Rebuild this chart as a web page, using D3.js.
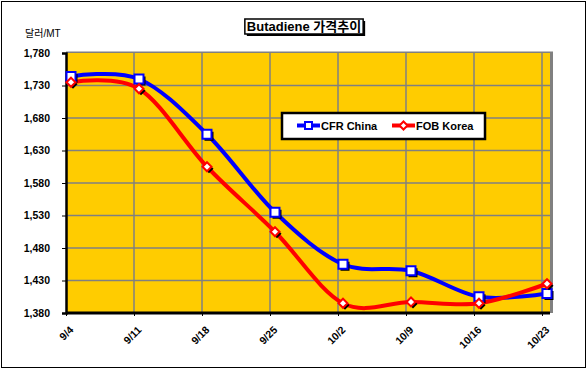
<!DOCTYPE html>
<html lang="ko">
<head>
  <meta charset="UTF-8" />
  <script src="https://d3js.org/d3.v7.min.js"></script>
  <title>Butadiene 가격추이</title>
  <style>
    body { margin: 0; background: #fff; }
    text { font-family: "Liberation Sans", Arial, "Noto Sans CJK KR", sans-serif; }
  </style>
</head>
<body>
  <div id="chart"></div>
  <script>
    // data
    const dates = ["9/4", "9/11", "9/18", "9/25", "10/2", "10/9", "10/16", "10/23"];
    const cfrChina = [1744, 1740, 1655, 1535, 1455, 1445, 1405, 1410];
    const fobKorea = [1735, 1725, 1605, 1505, 1395, 1397, 1395, 1425];
    const yTicks = [1380, 1430, 1480, 1530, 1580, 1630, 1680, 1730, 1780];

    const width = 587, height = 369;
    const plot = { left: 66, right: 542, top: 53, bottom: 313 };

    const svg = d3.select("#chart").append("svg")
      .attr("width", width)
      .attr("height", height);

    // outer frame
    svg.append("rect")
      .attr("x", 1.5).attr("y", 1.5)
      .attr("width", 584).attr("height", 366)
      .attr("fill", "#fff").attr("stroke", "#000").attr("stroke-width", 1);

    const x = d3.scalePoint().domain(dates).range([plot.left, plot.right]);
    const y = d3.scaleLinear().domain([1380, 1780]).range([plot.bottom, plot.top]);
    const px = d => x(d) + 5; // points sit a little right of the category lines

    // plot area (gray border on top/right, yellow fill)
    svg.append("rect")
      .attr("x", plot.left).attr("y", plot.top - 1.5)
      .attr("width", 553 - plot.left).attr("height", plot.bottom - plot.top + 1.5)
      .attr("fill", "#808080");
    svg.append("rect")
      .attr("x", plot.left).attr("y", plot.top)
      .attr("width", 550 - plot.left).attr("height", plot.bottom - plot.top)
      .attr("fill", "#FFCC00");

    // grid
    svg.append("g")
      .selectAll("line.h")
      .data(yTicks.slice(1, -1))
      .join("line")
      .attr("x1", plot.left).attr("x2", 550)
      .attr("y1", d => y(d)).attr("y2", d => y(d))
      .attr("stroke", "#808080").attr("stroke-width", 1.5);
    svg.append("g")
      .selectAll("line.v")
      .data(dates.slice(1))
      .join("line")
      .attr("x1", d => x(d)).attr("x2", d => x(d))
      .attr("y1", plot.top).attr("y2", plot.bottom)
      .attr("stroke", "#808080").attr("stroke-width", 1.5);

    // axes
    const yAxis = svg.append("g")
      .attr("transform", `translate(${plot.left},0)`)
      .call(d3.axisLeft(y).tickValues(yTicks).tickSize(4).tickFormat(d3.format(",")));
    yAxis.select(".domain").attr("stroke", "#000").attr("stroke-width", 2.5);
    yAxis.selectAll("text")
      .attr("x", -16)
      .attr("font-size", "10.5px").attr("font-weight", "bold").attr("fill", "#000")
      .style("font-family", "'Liberation Sans', Arial, sans-serif");

    const xAxis = svg.append("g")
      .attr("transform", `translate(0,${plot.bottom})`)
      .call(d3.axisBottom(x).tickSize(3));
    xAxis.select(".domain").attr("d", `M${plot.left},0H550`).attr("stroke", "#000").attr("stroke-width", 3);
    xAxis.selectAll("text")
      .attr("font-size", "10.5px").attr("font-weight", "bold").attr("fill", "#000")
      .style("font-family", "'Liberation Sans', Arial, sans-serif")
      .attr("text-anchor", "end")
      .attr("transform", "translate(5,15) rotate(-45)")
      .attr("x", 0).attr("y", 0).attr("dy", "0.35em");

    // y unit label
    svg.append("text")
      .attr("x", 25).attr("y", 37)
      .attr("font-size", "10px")
      .text("달러/MT");

    // series
    const series = [
      { name: "CFR China", values: cfrChina, color: "#0000FF", marker: "square" },
      { name: "FOB Korea", values: fobKorea, color: "#FF0000", marker: "diamond" }
    ];

    const line = d3.line()
      .x(d => px(d.date))
      .y(d => y(d.value))
      .curve(d3.curveCardinal.tension(0));

    const markerPath = (type, size) => type === "square"
      ? d3.symbol().type(d3.symbolSquare).size(size * size)()
      : `M0,${-size / 2}L${size / 2},0L0,${size / 2}L${-size / 2},0Z`;

    series.forEach(s => {
      const pts = dates.map((d, i) => ({ date: d, value: s.values[i] }));
      svg.append("path")
        .datum(pts)
        .attr("fill", "none")
        .attr("stroke", s.color)
        .attr("stroke-width", 4)
        .attr("d", line);
    });

    series.forEach(s => {
      const pts = dates.map((d, i) => ({ date: d, value: s.values[i] }));
      const size = 9;
      const g = svg.append("g");
      g.selectAll("path.shadow")
        .data(pts)
        .join("path")
        .attr("transform", d => `translate(${px(d.date) + 2},${y(d.value) + 2})`)
        .attr("d", markerPath(s.marker, size))
        .attr("fill", "#000");
      g.selectAll("path.mark")
        .data(pts)
        .join("path")
        .attr("transform", d => `translate(${px(d.date)},${y(d.value)})`)
        .attr("d", markerPath(s.marker, size))
        .attr("fill", "#fff")
        .attr("stroke", s.color)
        .attr("stroke-width", 2);
    });

    // legend
    svg.append("rect")
      .attr("x", 282).attr("y", 113)
      .attr("width", 203).attr("height", 26)
      .attr("fill", "#fff").attr("stroke", "#000").attr("stroke-width", 2.5);
    const legendX = [297, 392];
    series.forEach((s, i) => {
      const lx = legendX[i], ly = 125.5;
      svg.append("line")
        .attr("x1", lx).attr("x2", lx + 23)
        .attr("y1", ly).attr("y2", ly)
        .attr("stroke", s.color).attr("stroke-width", 4);
      svg.append("path")
        .attr("transform", `translate(${lx + 11.5},${ly})`)
        .attr("d", markerPath(s.marker, s.marker === "square" ? 7 : 8))
        .attr("fill", "#fff").attr("stroke", s.color).attr("stroke-width", 2);
      svg.append("text")
        .attr("x", lx + 24).attr("y", ly + 4)
        .attr("font-size", "11px").attr("font-weight", "bold")
        .text(s.name);
    });

    // title box
    const title = svg.append("g");
    const titleText = title.append("text")
      .attr("x", 304).attr("y", 31)
      .attr("text-anchor", "middle")
      .attr("font-size", "13px")
      .attr("font-weight", "bold")
      .text("Butadiene 가격추이");
    const bb = titleText.node().getBBox();
    title.insert("rect", "text")
      .attr("x", bb.x - 2 + 2).attr("y", 19 + 2)
      .attr("width", bb.width + 4).attr("height", 15)
      .attr("fill", "#000");
    title.insert("rect", "text")
      .attr("x", bb.x - 2).attr("y", 19)
      .attr("width", bb.width + 4).attr("height", 15)
      .attr("fill", "#fff").attr("stroke", "#000").attr("stroke-width", 1.5);
  </script>
</body>
</html>
